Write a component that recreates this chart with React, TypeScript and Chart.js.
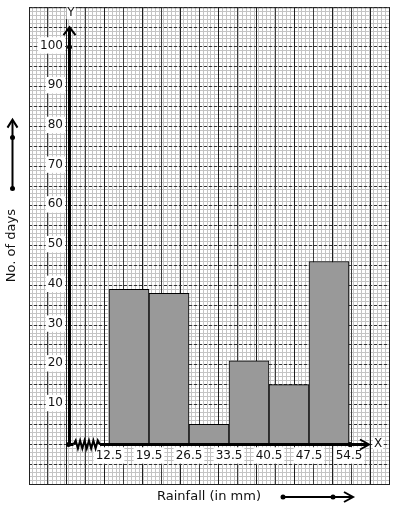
import React, { useEffect, useRef } from 'react';
import { Chart, registerables } from 'chart.js';

Chart.register(...registerables);

// ---- data ----
const CLASS_BOUNDARIES = [12.5, 19.5, 26.5, 33.5, 40.5, 47.5, 54.5];
const CLASS_MIDPOINTS = [16, 23, 30, 37, 44, 51];
const DAYS = [39, 38, 5, 21, 15, 46];
const Y_TICKS = [10, 20, 30, 40, 50, 60, 70, 80, 90, 100];
const X_TITLE = 'Rainfall (in mm)';
const Y_TITLE = 'No. of days';

// ---- graph-paper extent (axis units) ----
const X_MIN = -1.5;
const X_MAX = 61.5;
const Y_MIN = -10;
const Y_MAX = 110;
const X_ORIGIN = 5.5; // broken axis origin
const X_ARROW = 58;
const Y_ARROW = 105;
const X_MINOR_STEP = 0.7;
const X_MAJOR_STEP = 3.5;
const Y_MINOR_STEP = 1;
const Y_MAJOR_STEP = 5;

const stepTicks = (min: number, max: number, step: number) => {
  const n = Math.round((max - min) / step);
  const out: { value: number }[] = [];
  for (let i = 0; i <= n; i++) out.push({ value: +(min + i * step).toFixed(6) });
  return out;
};

const INK = '#111';

const axesDecor = {
  id: 'axesDecor',
  afterDatasetsDraw(chart: any) {
    const { ctx, chartArea: a, scales } = chart;
    const xs = scales.x;
    const ys = scales.y;
    const ox = Math.round(xs.getPixelForValue(X_ORIGIN)) + 0.5;
    const oy = Math.round(ys.getPixelForValue(0)) + 0.5;
    ctx.save();
    // frame
    ctx.strokeStyle = '#222';
    ctx.lineWidth = 1;
    ctx.strokeRect(a.left + 0.5, a.top + 0.5, a.right - a.left, a.bottom - a.top);

    ctx.strokeStyle = '#000';
    ctx.fillStyle = '#000';
    const dot = (x: number, y: number) => {
      ctx.beginPath();
      ctx.arc(x, y, 2.5, 0, Math.PI * 2);
      ctx.fill();
    };
    const chevron = (x: number, y: number, ux: number, uy: number, len: number, half: number) => {
      const px = -uy, py = ux;
      ctx.beginPath();
      ctx.moveTo(x - ux * len + px * half, y - uy * len + py * half);
      ctx.lineTo(x, y);
      ctx.lineTo(x - ux * len - px * half, y - uy * len - py * half);
      ctx.lineWidth = 2;
      ctx.stroke();
    };
    const line = (x0: number, y0: number, x1: number, y1: number, w: number) => {
      ctx.beginPath();
      ctx.moveTo(x0, y0);
      ctx.lineTo(x1, y1);
      ctx.lineWidth = w;
      ctx.stroke();
    };

    // Y axis
    const yTip = ys.getPixelForValue(Y_ARROW);
    line(ox, oy, ox, yTip + 1, 3);
    chevron(ox, yTip, 0, -1, 8, 6);
    dot(ox, ys.getPixelForValue(100));

    // X axis with break
    const xb0 = ox + 4;
    const xb1 = xs.getPixelForValue(CLASS_BOUNDARIES[0]) - 9;
    const xTip = xs.getPixelForValue(X_ARROW);
    line(ox, oy, xb0, oy, 3);
    ctx.beginPath();
    ctx.moveTo(xb0, oy);
    const segs = 12;
    for (let i = 1; i <= segs; i++) {
      const x = xb0 + ((xb1 - xb0) * i) / segs;
      const y = i === segs ? oy : oy + (i % 2 ? -4 : 4);
      ctx.lineTo(x, y);
    }
    ctx.lineWidth = 2;
    ctx.stroke();
    line(xb1, oy, xTip - 1, oy, 3);
    chevron(xTip, oy, 1, 0, 9, 5);
    dot(ox - 1, oy);
    dot(xs.getPixelForValue(CLASS_BOUNDARIES[CLASS_BOUNDARIES.length - 1]) + 1, oy);

    // axis letters
    ctx.font = '12px "DejaVu Sans"';
    ctx.textAlign = 'center';
    ctx.textBaseline = 'middle';
    const letter = (t: string, x: number, y: number) => {
      const w = ctx.measureText(t).width;
      ctx.fillStyle = '#fff';
      ctx.fillRect(x - w / 2 - 1, y - 6, w + 2, 12);
      ctx.fillStyle = INK;
      ctx.fillText(t, x, y);
    };
    letter('Y', ox + 1.5, a.top + 6);
    letter('X', xTip + 9, oy - 1);

    // direction arrows beside titles
    ctx.fillStyle = '#000';
    const cy = (a.top + a.bottom) / 2;
    const lx = 12.5;
    line(lx, cy - 57, lx, cy - 126 + 1, 2);
    chevron(lx, cy - 126, 0, -1, 8, 5);
    dot(lx, cy - 57);
    dot(lx, cy - 108);

    const cx = (a.left + a.right) / 2;
    const by = a.bottom + 13;
    line(cx + 74, by, cx + 144 - 1, by, 2);
    chevron(cx + 144, by, 1, 0, 9, 5);
    dot(cx + 74, by);
    dot(cx + 124, by);
    ctx.restore();
  },
};

export default function App() {
  const ref = useRef<HTMLCanvasElement>(null);
  useEffect(() => {
    const canvas = ref.current;
    if (!canvas) return;
    Chart.defaults.font.family = "'DejaVu Sans', sans-serif";
    const labelTicks = {
      color: INK,
      font: { size: 12 },
      autoSkip: false,
      maxRotation: 0,
      showLabelBackdrop: true,
      backdropColor: '#ffffff',
      backdropPadding: { x: 2, y: 1 },
    };
    const majorXColor = (c: any) => {
      const v = c && c.tick ? c.tick.value : X_MIN;
      const k = (v - X_ORIGIN) / 7;
      return Math.abs(k - Math.round(k)) < 1e-6 ? '#1e1e1e' : '#3c3c3c';
    };
    const chart = new Chart(canvas, {
      type: 'bar',
      data: {
        datasets: [
          {
            label: Y_TITLE,
            xAxisID: 'x',
            yAxisID: 'y',
            data: CLASS_MIDPOINTS.map((x, i) => ({ x, y: DAYS[i] })),
            backgroundColor: '#999999',
            borderColor: '#000000',
            borderWidth: 1,
            borderSkipped: false,
            barPercentage: 1,
            categoryPercentage: 1,
          },
        ],
      },
      options: {
        animation: false,
        responsive: true,
        maintainAspectRatio: false,
        layout: { padding: { left: 0, top: 4, right: 5, bottom: 0 } },
        plugins: { legend: { display: false }, tooltip: { enabled: false } },
        scales: {
          xMinor: {
            type: 'linear', axis: 'x', position: 'bottom', min: X_MIN, max: X_MAX,
            afterBuildTicks: (s: any) => { s.ticks = stepTicks(X_MIN, X_MAX, X_MINOR_STEP); },
            afterFit: (s: any) => { s.height = 0; },
            ticks: { display: false },
            grid: { color: '#c4c4c4', drawTicks: false, lineWidth: 1 },
            border: { display: false },
          },
          yMinor: {
            type: 'linear', axis: 'y', position: 'left', min: Y_MIN, max: Y_MAX,
            afterBuildTicks: (s: any) => { s.ticks = stepTicks(Y_MIN, Y_MAX, Y_MINOR_STEP); },
            afterFit: (s: any) => { s.width = 0; },
            ticks: { display: false },
            grid: { color: '#c4c4c4', drawTicks: false, lineWidth: 1 },
            border: { display: false },
          },
          xMajor: {
            type: 'linear', axis: 'x', position: 'bottom', min: X_MIN, max: X_MAX,
            afterBuildTicks: (s: any) => { s.ticks = stepTicks(X_MIN, X_MAX, X_MAJOR_STEP); },
            afterFit: (s: any) => { s.height = 26; },
            ticks: { display: false },
            grid: { drawTicks: false, lineWidth: 1, color: majorXColor },
            border: { display: false },
            title: {
              display: true, text: X_TITLE, color: INK,
              font: { size: 13 }, padding: { top: 0, bottom: 6 },
            },
          },
          yMajor: {
            type: 'linear', axis: 'y', position: 'left', min: Y_MIN, max: Y_MAX,
            afterBuildTicks: (s: any) => { s.ticks = stepTicks(Y_MIN, Y_MAX, Y_MAJOR_STEP); },
            afterFit: (s: any) => { s.width = 29; },
            ticks: { display: false },
            grid: { color: '#333333', drawTicks: false, lineWidth: 1 },
            border: { display: false, dash: [3, 2] },
            title: {
              display: true, text: Y_TITLE, color: INK,
              font: { size: 13 }, padding: { top: 4, bottom: 0 },
            },
          },
          x: {
            type: 'linear', axis: 'x', position: { y: 0 }, min: X_MIN, max: X_MAX,
            offset: false,
            afterBuildTicks: (s: any) => { s.ticks = CLASS_BOUNDARIES.map((v) => ({ value: v })); },
            afterFit: (s: any) => { s.height = 0; },
            grid: { display: false, drawTicks: false, offset: false },
            border: { display: false },
            ticks: { ...labelTicks, padding: 4, callback: (v: any) => Number(v).toFixed(1) },
          },
          y: {
            type: 'linear', axis: 'y', position: { x: X_ORIGIN - 1.05 }, min: Y_MIN, max: Y_MAX,
            afterBuildTicks: (s: any) => { s.ticks = Y_TICKS.map((v) => ({ value: v })); },
            afterFit: (s: any) => { s.width = 0; },
            grid: { display: false, drawTicks: false },
            border: { display: false },
            ticks: { ...labelTicks, padding: 0, labelOffset: -1.5 },
          },
        },
      } as any,
      plugins: [axesDecor],
    });
    return () => chart.destroy();
  }, []);
  return (
    <div style={{ position: 'absolute', left: 0, top: 0, width: 394, height: 510 }}>
      <canvas ref={ref} />
    </div>
  );
}
